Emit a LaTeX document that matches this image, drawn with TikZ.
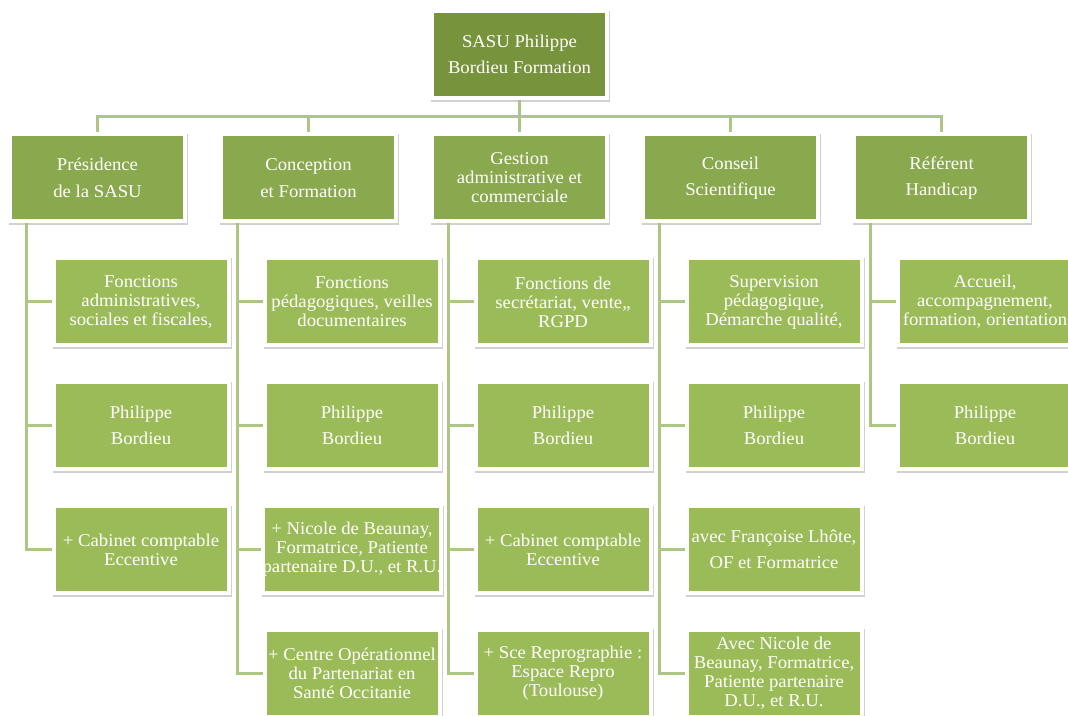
\documentclass[tikz,border=0pt]{standalone}
\usepackage{fontspec}
\setmainfont[FakeStretch=1.04]{Liberation Serif}
\usetikzlibrary{shadows,backgrounds,calc}
\definecolor{vertfonce}{HTML}{77933C}
\definecolor{vertmoyen}{HTML}{8AA84E}
\definecolor{vertclair}{HTML}{9BBB59}
\definecolor{vertlien}{HTML}{ADC683}
\tikzset{
  boite/.style={draw=white, line width=3pt, text=white, align=center,
    minimum width=131.25pt, minimum height=65.25pt, inner sep=0pt,
    font=\fontsize{13.5}{14.25}\selectfont,
    drop shadow={shadow xshift=0.8pt, shadow yshift=-1.2pt, fill=black!30, draw=black!30, line width=3pt, opacity=0.6}},
  chef/.style={boite, fill=vertfonce},
  pole/.style={boite, fill=vertmoyen},
  tache/.style={boite, fill=vertclair},
  lien/.style={draw=vertlien, line width=2.25pt}
}
\begin{document}
\begin{tikzpicture}[x=0.75pt, y=-0.75pt]
  \useasboundingbox (0,0) rectangle (1068,716);
  % sommet
  \node[chef] (sasu) at (519.5,54.5) {SASU Philippe\\[5.5pt]Bordieu Formation};
  % poles
  \node[pole] (p1) at (97.5,178) {Présidence\\[5.5pt]de la SASU};
  \node[pole] (p2) at (308.5,178) {Conception\\[5.5pt]et Formation};
  \node[pole] (p3) at (519.5,178) {Gestion\\administrative et\\commerciale};
  \node[pole] (p4) at (730.5,178) {Conseil\\[5.5pt]Scientifique};
  \node[pole] (p5) at (941.5,178) {Référent\\[5.5pt]Handicap};
  \coordinate (bus) at ($(sasu.south)!0.5!(p3.north)$);
  % missions
  \node[tache] (c11) at (141,302) {Fonctions\\administratives,\\sociales et fiscales,};
  \node[tache] (c21) at (352,302) {Fonctions\\pédagogiques, veilles\\documentaires};
  \node[tache] (c31) at (563,302) {Fonctions de\\secrétariat, vente,,\\RGPD};
  \node[tache] (c41) at (774,302) {Supervision\\pédagogique,\\Démarche qualité,};
  \node[tache] (c51) at (985,302) {Accueil,\\accompagnement,\\formation, orientation};
  \foreach \i/\x in {1/141, 2/352, 3/563, 4/774, 5/985}
    \node[tache] (c\i2) at (\x,425.5) {Philippe\\[5.5pt]Bordieu};
  \node[tache] (c13) at (141,549.5) {+ Cabinet comptable\\Eccentive};
  \node[tache] (c23) at (352,549.5) {+ Nicole de Beaunay,\\Formatrice, Patiente\\partenaire D.U., et R.U.};
  \node[tache] (c33) at (563,549.5) {+ Cabinet comptable\\Eccentive};
  \node[tache] (c43) at (774,549.5) {avec Françoise Lhôte,\\[5.5pt]OF et Formatrice};
  \node[tache] (c24) at (352,673) {+ Centre Opérationnel\\du Partenariat en\\Santé Occitanie};
  \node[tache] (c34) at (563,673) {+ Sce Reprographie :\\Espace Repro\\(Toulouse)};
  \node[tache] (c44) at (774,673) {Avec Nicole de\\Beaunay, Formatrice,\\Patiente partenaire\\D.U., et R.U.};
  % liens
  \begin{scope}[on background layer]
    \draw[lien] (sasu.south) -- (bus);
    \foreach \i in {1,...,5}
      \draw[lien] (p\i.north) |- (bus);
    \foreach \i/\n in {1/3, 2/4, 3/4, 4/4, 5/2}
      \foreach \j in {1,...,\n}
        \draw[lien] (c\i\j.west) -| ([xshift=13.5pt]p\i.south west);
  \end{scope}
\end{tikzpicture}
\end{document}
